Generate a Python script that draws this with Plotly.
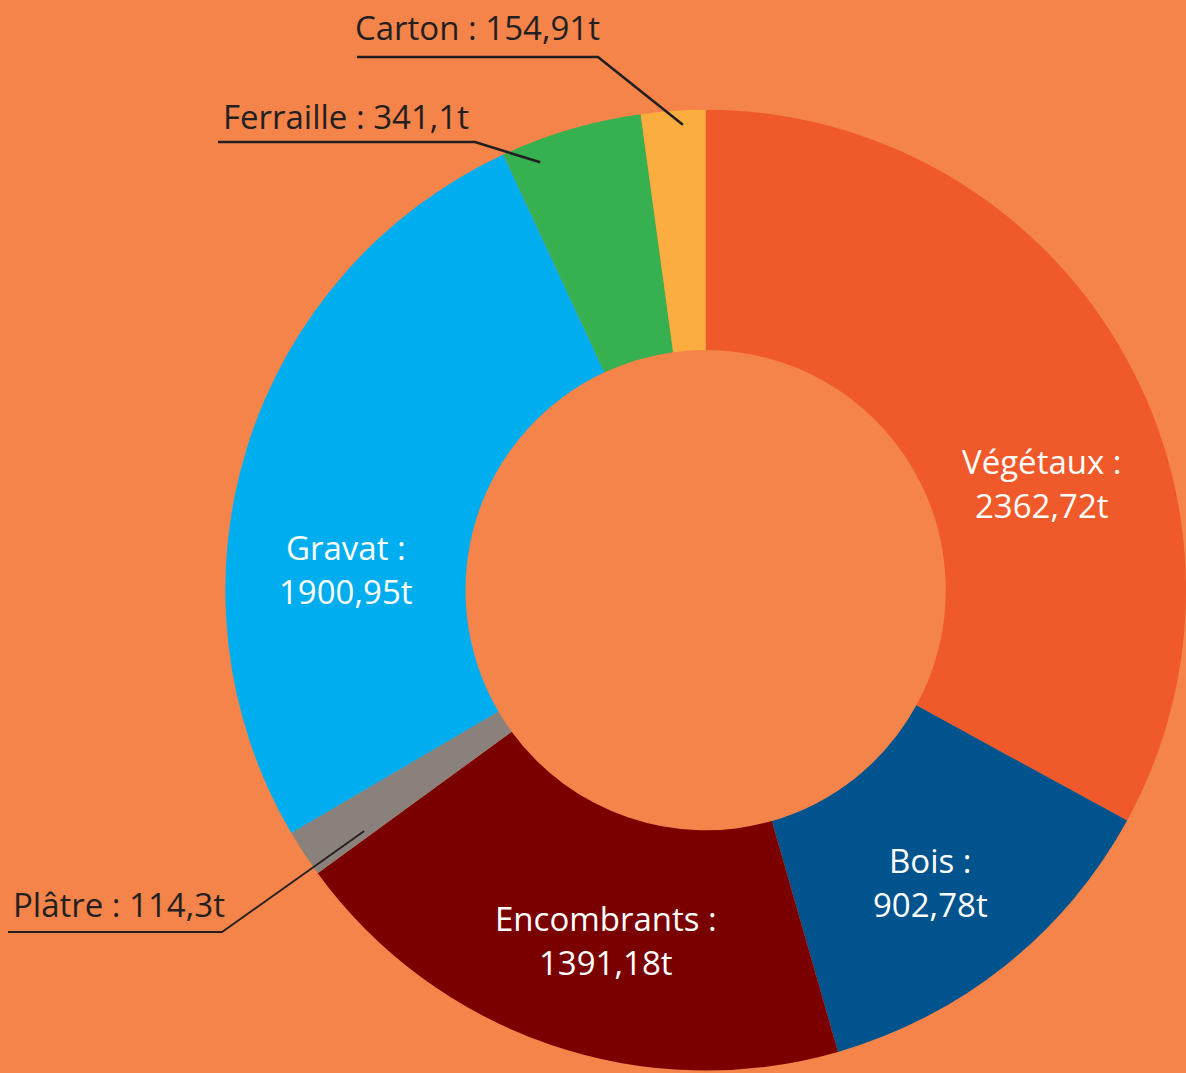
import math
import plotly.graph_objects as go

# ---- data ----
categories = ["Végétaux", "Bois", "Encombrants", "Plâtre", "Gravat", "Ferraille", "Carton"]
tonnes = [2362.72, 902.78, 1391.18, 114.3, 1900.95, 341.1, 154.91]
value_labels = ["2362,72t", "902,78t", "1391,18t", "114,3t", "1900,95t", "341,1t", "154,91t"]
colors = ["#F05A2A", "#00538C", "#7A0000", "#8A817C", "#00AEEF", "#37B04F", "#FBAD3F"]

W, H = 1186, 1073
BG = "#F5844A"
DARK = "#231F20"
FONT = "Open Sans"
FS = 33

dom_x = [0.19, 1.0]
dom_y = [0.0, 0.9]
HOLE = 0.5

fig = go.Figure(go.Pie(
    labels=categories, values=tonnes, sort=False, direction="clockwise", rotation=0,
    marker=dict(colors=colors, line=dict(width=0)), hole=HOLE,
    textinfo="none", hoverinfo="label+value", showlegend=False,
    domain=dict(x=dom_x, y=dom_y),
))

# geometry of the pie in pixels (margins are zero)
wpx = (dom_x[1] - dom_x[0]) * W
hpx = (dom_y[1] - dom_y[0]) * H
R = min(wpx, hpx) / 2
cx = (dom_x[0] + dom_x[1]) / 2 * W
cy = H - (dom_y[0] + dom_y[1]) / 2 * H

total = sum(tonnes)
bounds = []
acc = 0.0
for v in tonnes:
    a0 = acc / total * 360
    acc += v
    a1 = acc / total * 360
    bounds.append((a0, a1))


def pt(theta, r):
    t = math.radians(theta)
    return cx + r * math.sin(t), cy - r * math.cos(t)


def px2paper(x, y):
    return x / W, 1 - y / H


annotations = []
shapes = []

# inside labels (angle shift within slice and radius fraction, as style)
inside_style = {"Végétaux": (13, 0.735), "Bois": (1.2, 0.768), "Encombrants": (-3, 0.758), "Gravat": (-14, 0.75)}
for i, name in enumerate(categories):
    if name not in inside_style:
        continue
    shift, rf = inside_style[name]
    a0, a1 = bounds[i]
    th = (a0 + a1) / 2 + shift
    x, y = pt(th, rf * R)
    px, py = px2paper(x, y)
    for txt, dy in ((name + " :", 22), (value_labels[i], -22)):
        annotations.append(dict(x=px, y=py, xref="paper", yref="paper", text=txt,
                                showarrow=False, yshift=dy, xanchor="center", yanchor="middle",
                                font=dict(family=FONT, size=FS, color="white")))

# outside labels with leader lines:
# (text left x, text gap above line, underline y, underline x0, elbow x, frac in slice, radius frac)
outside = {
    "Carton": (353, 5, 57, 357, 598, 0.64, 0.97),
    "Ferraille": (221, 1, 142, 218, 475, 0.22, 0.955),
    "Plâtre": (11, 3, 932, 8, 222, 0.16, 0.87),
}
for i, name in enumerate(categories):
    if name not in outside:
        continue
    tx, gap, uy, ux0, ex, frac, rf = outside[name]
    a0, a1 = bounds[i]
    th = a0 + frac * (a1 - a0)
    ex2, ey2 = pt(th, rf * R)
    p0 = px2paper(ux0, uy)
    p1 = px2paper(ex, uy)
    p2 = px2paper(ex2, ey2)
    shapes.append(dict(type="path", xref="paper", yref="paper",
                       path=f"M {p0[0]} {p0[1]} L {p1[0]} {p1[1]} L {p2[0]} {p2[1]}",
                       line=dict(color=DARK, width=2.6 if name != "Plâtre" else 1.8)))
    lx, ly = px2paper(tx, uy - gap)
    annotations.append(dict(x=lx, y=ly, xref="paper", yref="paper",
                            text=f"{name} : {value_labels[i]}", showarrow=False,
                            xanchor="left", yanchor="bottom",
                            font=dict(family=FONT, size=FS, color=DARK)))

fig.update_layout(
    width=W, height=H, margin=dict(l=0, r=0, t=0, b=0),
    paper_bgcolor=BG, plot_bgcolor=BG,
    annotations=annotations, shapes=shapes,
)

fig.write_html("out.html", config={"displayModeBar": False},
               post_script="document.body.style.margin='0';document.body.style.overflow='hidden';")
